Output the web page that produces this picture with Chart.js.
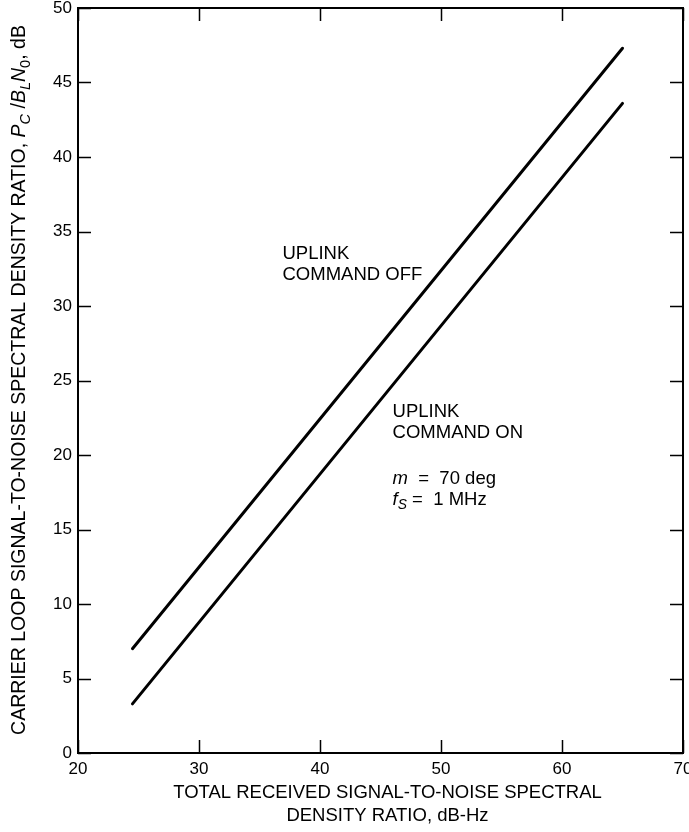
<!DOCTYPE html>
<html>
<head>
<meta charset="utf-8">
<script src="https://cdn.jsdelivr.net/npm/chart.js@4.4.0/dist/chart.umd.min.js"></script>
<style>
  html, body { margin: 0; padding: 0; background: #fff; }
  #wrap { width: 689px; height: 832px; }
</style>
</head>
<body>
<div id="wrap"><canvas id="grafico"></canvas></div>
<script>
// dados
const xTicks = [20, 30, 40, 50, 60, 70];
const yTicks = [0, 5, 10, 15, 20, 25, 30, 35, 40, 45, 50];
const offX = [24.5, 65];
const offY = [7.0, 47.3];
const onX = [24.5, 65];
const onY = [3.3, 43.6];

const FONTE = '"Liberation Sans", Arial, Helvetica, sans-serif';
const TAM = 18.5;

// desenha texto com trechos (itálico, subscrito) a partir de x,y
function textoRico(ctx, partes, x, y, tam) {
  let px = x;
  partes.forEach(p => {
    const t = p.sub ? tam * 0.75 : tam;
    ctx.font = (p.it ? 'italic ' : '') + t + 'px ' + FONTE;
    ctx.fillText(p.t, px, y + (p.sub ? tam * 0.3 : 0));
    px += ctx.measureText(p.t).width;
  });
  return px - x;
}
function larguraRica(ctx, partes, tam) {
  let w = 0;
  partes.forEach(p => {
    const t = p.sub ? tam * 0.75 : tam;
    ctx.font = (p.it ? 'italic ' : '') + t + 'px ' + FONTE;
    w += ctx.measureText(p.t).width;
  });
  return w;
}

const moldura = {
  id: 'moldura',
  afterDraw(chart) {
    const ctx = chart.ctx;
    const a = chart.chartArea;
    const sx = chart.scales.x, sy = chart.scales.y;
    const tl = 13;
    ctx.save();
    ctx.strokeStyle = '#000';
    ctx.lineWidth = 2;
    ctx.strokeRect(a.left, a.top, a.right - a.left, a.bottom - a.top);
    ctx.lineWidth = 1.5;
    ctx.beginPath();
    xTicks.forEach(v => {
      const p = Math.round(sx.getPixelForValue(v)) + 0.5;
      ctx.moveTo(p, a.bottom); ctx.lineTo(p, a.bottom - tl);
      ctx.moveTo(p, a.top); ctx.lineTo(p, a.top + tl);
    });
    yTicks.forEach(v => {
      const p = Math.round(sy.getPixelForValue(v)) + 0.5;
      ctx.moveTo(a.left, p); ctx.lineTo(a.left + tl, p);
      ctx.moveTo(a.right, p); ctx.lineTo(a.right - tl, p);
    });
    ctx.stroke();

    ctx.fillStyle = '#000';
    ctx.textBaseline = 'middle';
    ctx.textAlign = 'left';

    // rótulos das curvas
    const txt = (s, x, y) => {
      ctx.font = TAM + 'px ' + FONTE;
      ctx.fillText(s, sx.getPixelForValue(x), sy.getPixelForValue(y));
    };
    txt('UPLINK', 36.9, 33.5);
    txt('COMMAND OFF', 36.9, 32.1);
    txt('UPLINK', 46.0, 22.9);
    txt('COMMAND ON', 46.0, 21.5);
    textoRico(ctx, [{ t: 'm', it: true }, { t: '  =  70 deg' }],
      sx.getPixelForValue(46.0), sy.getPixelForValue(18.4), TAM);
    textoRico(ctx, [{ t: 'f', it: true }, { t: 'S', it: true, sub: true }, { t: ' =  1 MHz' }],
      sx.getPixelForValue(46.0), sy.getPixelForValue(17.0), TAM);

    // título do eixo x
    ctx.textAlign = 'center';
    ctx.font = TAM + 'px ' + FONTE;
    const cx = (a.left + a.right) / 2 + 7;
    ctx.fillText('TOTAL RECEIVED SIGNAL-TO-NOISE SPECTRAL', cx, 793);
    ctx.fillText('DENSITY RATIO, dB-Hz', cx, 816);

    // título do eixo y (rotacionado)
    const partesY = [
      { t: 'CARRIER LOOP SIGNAL-TO-NOISE SPECTRAL DENSITY RATIO, ' },
      { t: 'P', it: true }, { t: 'C', it: true, sub: true }, { t: ' /' },
      { t: 'B', it: true }, { t: 'L', it: true, sub: true },
      { t: 'N', it: true }, { t: '0', sub: true }, { t: ', dB' }
    ];
    ctx.textAlign = 'left';
    const tamY = 19.5;
    const w = larguraRica(ctx, partesY, tamY);
    ctx.translate(20, 380);
    ctx.rotate(-Math.PI / 2);
    textoRico(ctx, partesY, -w / 2, 0, tamY);
    ctx.restore();
  }
};

const serie = (xs, ys) => xs.map((x, i) => ({ x: x, y: ys[i] }));

new Chart(document.getElementById('grafico').getContext('2d'), {
  type: 'line',
  data: {
    datasets: [
      { label: 'UPLINK COMMAND OFF', data: serie(offX, offY), borderColor: '#000', borderWidth: 3, pointRadius: 0, borderCapStyle: 'round', fill: false },
      { label: 'UPLINK COMMAND ON', data: serie(onX, onY), borderColor: '#000', borderWidth: 3, pointRadius: 0, borderCapStyle: 'round', fill: false }
    ]
  },
  options: {
    responsive: true, maintainAspectRatio: false, animation: false,
    layout: { padding: { top: 8, right: 6, left: 0, bottom: 0 } },
    plugins: { legend: { display: false }, tooltip: { enabled: false } },
    scales: {
      x: {
        type: 'linear', min: 20, max: 70,
        afterBuildTicks: s => { s.ticks = xTicks.map(v => ({ value: v })); },
        afterFit: s => { s.height = 79; s.paddingLeft = 0; s.paddingRight = 0; },
        grid: { display: false, drawTicks: false },
        border: { display: false },
        ticks: { color: '#000', padding: 6, maxRotation: 0, font: { family: FONTE, size: 17 } }
      },
      y: {
        type: 'linear', min: 0, max: 50,
        afterBuildTicks: s => { s.ticks = yTicks.map(v => ({ value: v })); },
        afterFit: s => { s.width = 78; s.paddingTop = 0; s.paddingBottom = 0; },
        grid: { display: false, drawTicks: false },
        border: { display: false },
        ticks: { color: '#000', padding: 6, font: { family: FONTE, size: 17 } }
      }
    }
  },
  plugins: [moldura]
});
</script>
</body>
</html>
